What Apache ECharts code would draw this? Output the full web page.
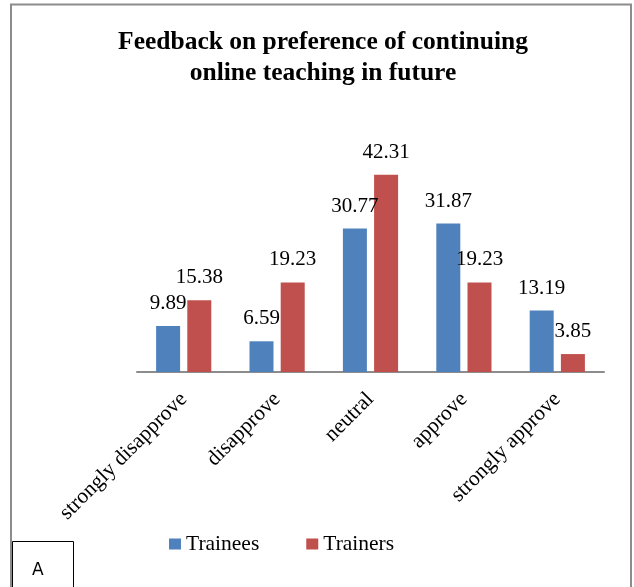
<!DOCTYPE html>
<html>
<head>
<meta charset="utf-8">
<script src="https://cdn.jsdelivr.net/npm/echarts@6/dist/echarts.min.js"></script>
<style>
  html, body { margin: 0; padding: 0; background: #fff; }
  #chart { width: 634px; height: 587px; }
</style>
</head>
<body>
<div id="chart"></div>
<script>
// 数据
const categories = ['strongly disapprove', 'disapprove', 'neutral', 'approve', 'strongly approve']
const traineesData = [9.89, 6.59, 30.77, 31.87, 13.19]
const trainersData = [15.38, 19.23, 42.31, 19.23, 3.85]

const serif = '"Liberation Serif", "Times New Roman", serif'

const chart = echarts.init(document.getElementById('chart'))

const labelStyle = {
  show: true,
  position: 'top',
  distance: 12,
  fontFamily: serif,
  fontSize: 21,
  color: '#000'
}

chart.setOption({
  backgroundColor: '#fff',
  animation: false,
  title: {
    text: 'Feedback on preference of continuing\nonline teaching in future',
    left: 318,
    textAlign: 'center',
    top: 22,
    textStyle: {
      fontFamily: serif,
      fontSize: 25.5,
      fontWeight: 'bold',
      color: '#000',
      lineHeight: 31
    }
  },
  legend: {
    left: 164,
    top: 528,
    itemWidth: 12,
    itemHeight: 11,
    itemGap: 47,
    icon: 'rect',
    textStyle: {
      fontFamily: serif,
      fontSize: 21.5,
      color: '#000'
    },
    data: ['Trainees', 'Trainers']
  },
  grid: {
    left: 137,
    right: 30,
    top: 139,
    bottom: 215
  },
  xAxis: {
    type: 'category',
    data: categories,
    axisLine: { lineStyle: { color: '#8c8c8c', width: 2 } },
    axisTick: { show: false },
    axisLabel: {
      rotate: 45,
      margin: 24,
      interval: 0,
      fontFamily: serif,
      fontSize: 21.5,
      color: '#000'
    }
  },
  yAxis: {
    type: 'value',
    min: 0,
    max: 50,
    show: false,
    splitLine: { show: false }
  },
  series: [
    {
      name: 'Trainees',
      type: 'bar',
      data: traineesData,
      barWidth: 24,
      barGap: '30%',
      itemStyle: { color: '#4f81bd' },
      label: labelStyle
    },
    {
      name: 'Trainers',
      type: 'bar',
      data: trainersData,
      barWidth: 24,
      itemStyle: { color: '#c0504d' },
      label: labelStyle
    }
  ],
  graphic: [
    {
      type: 'rect',
      shape: { x: 11, y: 4.5, width: 620, height: 600 },
      style: { fill: 'none', stroke: '#8c8c8c', lineWidth: 2 },
      z: 0
    },
    {
      type: 'rect',
      shape: { x: 12.5, y: 541.5, width: 61, height: 60 },
      style: { fill: '#fff', stroke: '#000', lineWidth: 1 },
      z: 10
    },
    {
      type: 'text',
      left: 32,
      top: 562,
      style: {
        text: 'A',
        font: '17px "DejaVu Sans", sans-serif',
        fill: '#000'
      },
      z: 11
    }
  ]
})
</script>
</body>
</html>
